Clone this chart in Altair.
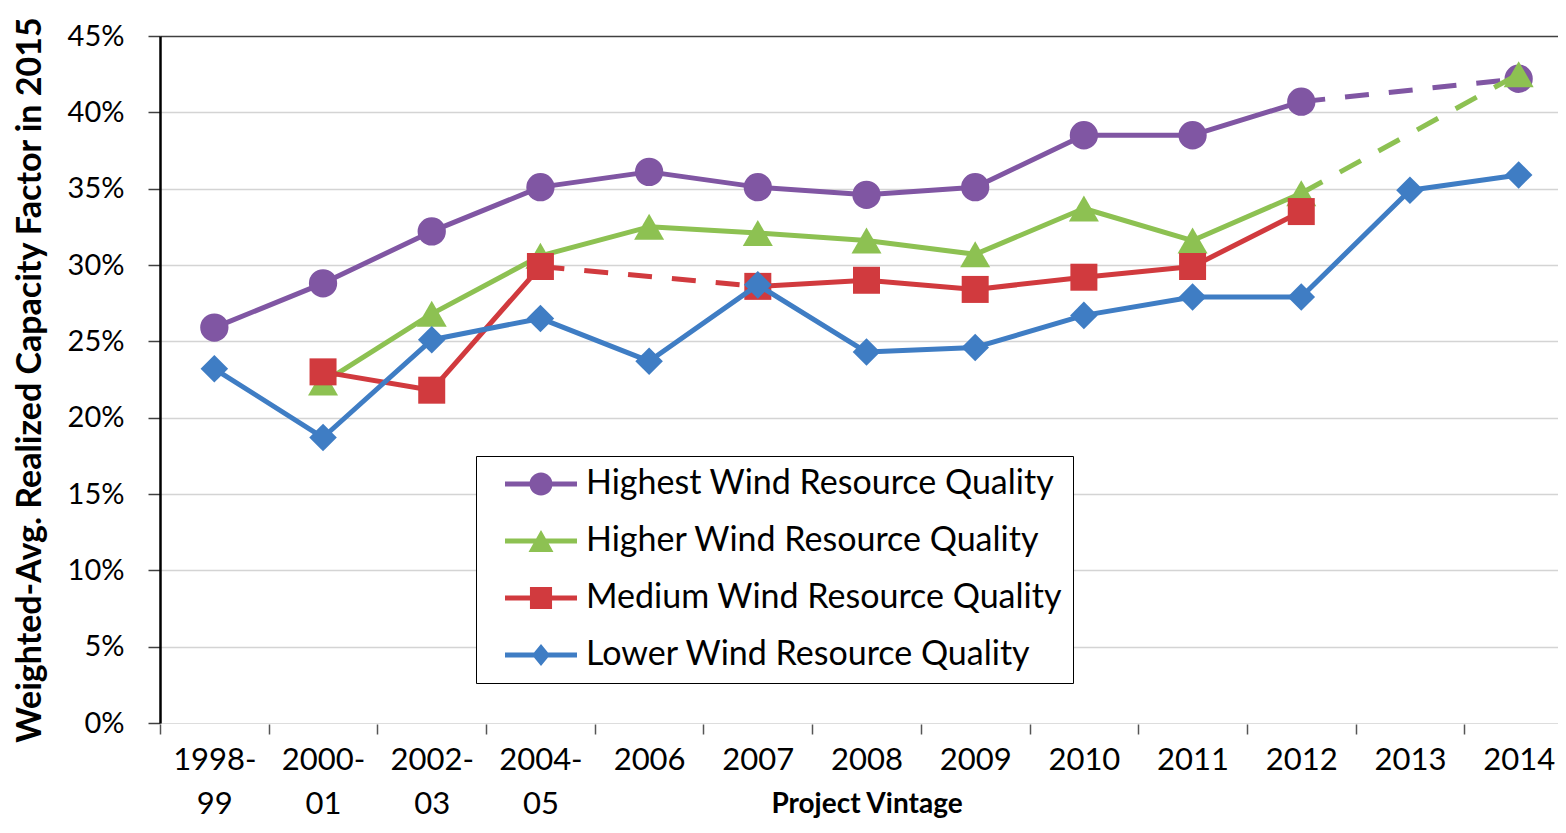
import altair as alt
import pandas as pd

vintages = ["1998-99", "2000-01", "2002-03", "2004-05", "2006", "2007", "2008",
            "2009", "2010", "2011", "2012", "2013", "2014"]
series_names = ["Highest Wind Resource Quality", "Higher Wind Resource Quality",
                "Medium Wind Resource Quality", "Lower Wind Resource Quality"]
highest = [25.9, 28.8, 32.2, 35.1, 36.1, 35.1, 34.6, 35.1, 38.5, 38.5, 40.7, None, 42.2]
higher = [None, 22.3, 26.8, 30.6, 32.5, 32.1, 31.6, 30.7, 33.7, 31.6, 34.7, None, 42.5]
medium = [None, 23.0, 21.8, 29.9, None, 28.6, 29.0, 28.4, 29.2, 29.9, 33.5, None, None]
lower = [23.2, 18.7, 25.1, 26.5, 23.7, 28.7, 24.3, 24.6, 26.7, 27.9, 27.9, 34.9, 35.9]
y_ticks = [0, 5, 10, 15, 20, 25, 30, 35, 40, 45]

colors = ["#8056A3", "#8DC152", "#D13A3E", "#3F7DC4"]
shapes = ["circle", "triangle-up", "square", "diamond"]
sizes = [800, 900, 729, 760]
legend_paths = [
    "M-3,-0.21H3V0.21H-3Z M0.96,0A0.96,0.96 0 1,1 -0.96,0A0.96,0.96 0 1,1 0.96,0Z",
    "M-3,-0.21H3V0.21H-3Z M0,-0.92L1.04,0.92L-1.04,0.92Z",
    "M-3,-0.21H3V0.21H-3Z M-0.92,-0.92H0.92V0.92H-0.92Z",
    "M-3,-0.21H3V0.21H-3Z M0,-0.92L0.75,0L0,0.92L-0.75,0Z",
]
all_values = [highest, higher, medium, lower]

# points table
pts = []
for name, vals in zip(series_names, all_values):
    for i, v in enumerate(vals):
        if v is not None:
            pts.append({"series": name, "vintage": vintages[i], "idx": i, "value": v})
pts_df = pd.DataFrame(pts)

# line runs: solid for adjacent vintages, dashed across missing vintages
lines = []
run_id = 0
for name, vals in zip(series_names, all_values):
    idx = [i for i, v in enumerate(vals) if v is not None]
    run = [idx[0]]
    for a, b in zip(idx, idx[1:]):
        if b == a + 1:
            run.append(b)
        else:
            if len(run) > 1:
                for i in run:
                    lines.append({"series": name, "run": run_id, "style": "solid",
                                  "vintage": vintages[i], "idx": i, "value": vals[i]})
                run_id += 1
            for i in (a, b):
                lines.append({"series": name, "run": run_id, "style": "dashed",
                              "vintage": vintages[i], "idx": i, "value": vals[i]})
            run_id += 1
            run = [b]
    if len(run) > 1:
        for i in run:
            lines.append({"series": name, "run": run_id, "style": "solid",
                          "vintage": vintages[i], "idx": i, "value": vals[i]})
        run_id += 1
lines_df = pd.DataFrame(lines)

x_scale = alt.Scale(domain=vintages, type="band", paddingInner=0, paddingOuter=0,
                    range=[0, 1413])
y_scale = alt.Scale(domain=[0, 45], nice=False, zero=True)

x_axis = alt.Axis(
    title="Project Vintage", titleFont="Lato", titleFontWeight="bold", titleFontSize=28,
    titleColor="black", titleY=66,
    labelFont="Lato", labelFontSize=31, labelColor="black", labelAngle=0,
    labelExpr="indexof(datum.label, '-') > 0 ? [slice(datum.label, 0, indexof(datum.label, '-') + 1), slice(datum.label, indexof(datum.label, '-') + 1)] : datum.label",
    labelLineHeight=44, labelPadding=11, labelOverlap=False,
    domain=False, ticks=True, tickBand="extent", tickSize=10, tickColor="#555555",
    tickWidth=1.5, offset=1, grid=False,
)
y_axis = alt.Axis(
    values=y_ticks, labelExpr="datum.value + '%'",
    labelFont="Lato", labelFontSize=29, labelColor="black", labelPadding=24,
    tickSize=12, tickColor="#404040", tickWidth=1.5,
    domainColor="black", domainWidth=2.5,
    grid=True, gridWidth=1.5,
    gridColor={"condition": {"test": "datum.value >= 45", "value": "#404040"}, "value": "#d4d4d4"},
    gridOpacity={"condition": {"test": "datum.value == 0", "value": 0}, "value": 1},
    title="Weighted-Avg. Realized Capacity Factor in 2015", titleFont="Lato",
    titleFontWeight="bold", titleFontSize=34, titleColor="black", titlePadding=20,
)

X = alt.X("vintage:N", scale=x_scale, axis=x_axis, sort=vintages)
Y = alt.Y("value:Q", scale=y_scale, axis=y_axis)

layers = []
for k, name in enumerate(series_names):
    base_l = alt.Chart(lines_df).transform_filter(alt.datum.series == name)
    solid = base_l.transform_filter(alt.datum.style == "solid").mark_line(
        color=colors[k], strokeWidth=5, strokeCap="round", strokeJoin="round"
    ).encode(x=X, y=Y, detail="run:N", order="idx:Q")
    dashed = base_l.transform_filter(alt.datum.style == "dashed").mark_line(
        color=colors[k], strokeWidth=5, strokeDash=[24, 20]
    ).encode(x=X, y=Y, detail="run:N", order="idx:Q")
    points = alt.Chart(pts_df).transform_filter(alt.datum.series == name).mark_point(
        filled=True, opacity=1, shape=shapes[k], size=sizes[k], color=colors[k], strokeWidth=0
    ).encode(x=X, y=Y)
    layers += [solid, dashed, points]

leg = alt.Legend(
    title=None, orient="none", legendX=316, legendY=420, direction="vertical",
    strokeColor="black", fillColor="white", padding=11,
    symbolSize=576, symbolStrokeWidth=0, symbolOffset=37, labelOffset=28,
    rowPadding=23, labelFont="Lato", labelFontSize=34, labelColor="black", labelLimit=0,
    labelExpr="datum.label + '\u00a0\u00a0\u00a0\u00a0\u00a0\u00a0\u00a0\u00a0'",
)
legend_layer = alt.Chart(pts_df).transform_filter("false").mark_point(
    filled=True, opacity=1
).encode(
    color=alt.Color("series:N", scale=alt.Scale(domain=series_names, range=colors), legend=leg),
    shape=alt.Shape("series:N", scale=alt.Scale(domain=series_names, range=legend_paths), legend=leg),
)
layers.append(legend_layer)

chart = alt.layer(*layers).properties(
    width=1398, height=687,
    padding={"left": 152, "top": 28, "right": 0, "bottom": 97},
    autosize=alt.AutoSizeParams(type="none"),
    background="white",
).configure_view(stroke=None).configure(font="Lato")

chart.save("out.html", embed_options={"renderer": "svg", "actions": False})
